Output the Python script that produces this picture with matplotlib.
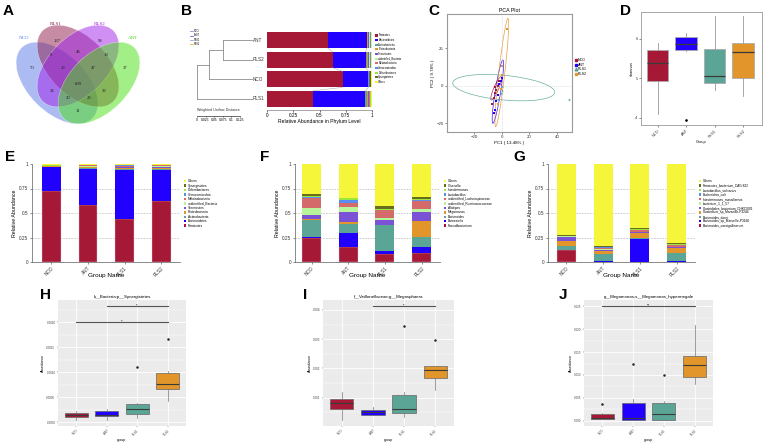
import matplotlib
matplotlib.use('Agg')
import matplotlib.pyplot as plt
from matplotlib.patches import Ellipse, Patch
from matplotlib.lines import Line2D
from matplotlib.ticker import MultipleLocator, FixedLocator
import numpy as np

plt.rcParams['font.family'] = ['Liberation Sans', 'DejaVu Sans']

W, H = 765, 442
fig = plt.figure(figsize=(W / 100, H / 100), dpi=100)


def px_axes(x0, y0, x1, y1):
    return fig.add_axes([x0 / W, 1 - y1 / H, (x1 - x0) / W, (y1 - y0) / H])


# ------------------------------------------------------------------ data
groups = ['NCO', 'ANT', 'RLS1', 'RLS2']
group_colors = ['#A51937', '#2200FF', '#5BA596', '#E2952B']

# Venn (A)
venn_sets = ['NCO', 'RLS1', 'RLS2', 'ANT']
venn_colors = ['#5a7ae8', '#8c1a4a', '#a020e8', '#48e010']
venn_label_colors = ['#5a7ae8', '#8c1a4a', '#a020e8', '#48d010']
venn_regions = ['NCO', 'RLS1', 'RLS2', 'ANT', 'NCO&RLS1', 'RLS1&RLS2', 'RLS2&ANT',
                'NCO&RLS1&RLS2', 'RLS1&RLS2&ANT', 'ALL', 'NCO&RLS2', 'RLS1&ANT',
                'NCO&RLS2&ANT', 'NCO&RLS1&ANT', 'NCO&ANT']
venn_counts = [70, 137, 58, 37, 9, 48, 19, 23, 47, 609, 34, 39, 20, 23, 11]

# stacked colours (bottom -> top)
stack_colors = ['#A51937', '#2200FF', '#5BA596', '#E2952B', '#7B52D6', '#B8F59A',
                '#D46A6A', '#5B8DEF', '#99E63E', '#6B6B1E', '#F5F53A']

# Phylum (B, E)
phyla = ['Firmicutes', 'Bacteroidetes', 'Actinobacteria', 'Proteobacteria', 'Tenericutes',
         'unidentified_Bacteria', 'Melainabacteria', 'Verrucomicrobia', 'Deferribacteres',
         'Synergistetes', 'Others']
phylum_NCO = [0.72, 0.245, 0.005, 0.005, 0.003, 0.003, 0.002, 0.001, 0.001, 0.005, 0.010]
phylum_ANT = [0.58, 0.370, 0.005, 0.010, 0.003, 0.010, 0.007, 0.002, 0.003, 0.003, 0.007]
phylum_RLS1 = [0.435, 0.500, 0.015, 0.010, 0.008, 0.005, 0.010, 0.002, 0.002, 0.005, 0.008]
phylum_RLS2 = [0.625, 0.315, 0.012, 0.010, 0.010, 0.005, 0.008, 0.002, 0.002, 0.003, 0.008]

# Genus (F)
genera = ['Faecalibacterium', 'Barnesiella', 'Bacteroides', 'Megamonas', 'Alistipes',
          'unidentified_Ruminococcaceae', 'unidentified_Lachnospiraceae', 'Lactobacillus',
          'Intestinimonas', 'Olsenella', 'Others']
genus_NCO = [0.240, 0.020, 0.165, 0.010, 0.040, 0.075, 0.105, 0.007, 0.010, 0.017, 0.311]
genus_ANT = [0.155, 0.140, 0.090, 0.025, 0.100, 0.050, 0.045, 0.025, 0.020, 0.003, 0.347]
genus_RLS1 = [0.078, 0.030, 0.265, 0.007, 0.045, 0.023, 0.080, 0.007, 0.010, 0.025, 0.430]
genus_RLS2 = [0.090, 0.065, 0.100, 0.160, 0.095, 0.030, 0.080, 0.008, 0.017, 0.020, 0.335]

# Species (G)
species = ['Bacteroides_caecigallinarum', 'Bacteroides_sp_Marseille-P3166', 'Bacteroides_dorei',
           'Clostridium_sp_Marseille-P3244', 'Clostridiales_bacterium_CHKCI001',
           'bacterium_1_1_57', 'Intestinimonas_massiliensis', 'Escherichia_coli',
           'Lactobacillus_salivarius', 'Firmicutes_bacterium_CAG:822', 'Others']
species_NCO = [0.120, 0.002, 0.040, 0.055, 0.040, 0.005, 0.003, 0.002, 0.003, 0.003, 0.727]
species_ANT = [0.003, 0.005, 0.075, 0.025, 0.012, 0.010, 0.010, 0.008, 0.010, 0.007, 0.835]
species_RLS1 = [0.003, 0.230, 0.010, 0.050, 0.010, 0.005, 0.015, 0.005, 0.007, 0.010, 0.655]
species_RLS2 = [0.003, 0.010, 0.080, 0.045, 0.010, 0.008, 0.015, 0.005, 0.005, 0.012, 0.807]

# Dendrogram (B)
dendro_order = ['ANT', 'RLS2', 'NCO', 'RLS1']
dendro_merges = [(0, 1, 0.084), (4, 2, 0.125), (5, 3, 0.160)]
dendro_legend_colors = ['#b07ad0', '#8a5ad8', '#9ab0d0', '#f0b040']
scale_ticks = [0, 0.025, 0.05, 0.075, 0.1, 0.125]
scale_labels = ['0', '0.025', '0.05', '0.075', '0.1', '0.125']

# PCA (C)
pca_NCO = [(-4, -3), (-5, -5), (-6, -8), (-7, -12), (-3, 0), (-2, 3), (-5, -1)]
pca_ANT = [(-1, 3), (-2, 1), (-3, -6), (-5, -16), (-6, -18), (-4, -10), (0, 5)]
pca_RLS1 = [(0, 0), (-1, -5), (-3, -9), (0, -3), (49, -9)]
pca_RLS2 = [(4, 38), (0, 13), (0, 7), (-1, -2), (-3, -12)]
# ellipse: centre x, centre y, major, minor, angle (data units)
pca_ell_NCO = (-4.15, -1.8, 17.2, 3.5, 65)
pca_ell_ANT = (-2.95, -4.0, 43.0, 4.0, 80.2)
pca_ell_RLS1 = (1.3, -1.3, 74.5, 16.5, -5)
pca_ell_RLS2 = (-0.1, 8.8, 73.0, 4.4, 82.9)

# Shannon (D): q1, median, q3, whislo, whishi, outliers
shannon_stats = {
    'NCO': (4.94, 5.38, 5.73, 4.09, 5.90, []),
    'ANT': (5.73, 5.88, 6.04, 5.69, 6.15, [3.94]),
    'RLS1': (4.88, 5.06, 5.74, 4.71, 6.58, []),
    'RLS2': (5.00, 5.67, 5.90, 4.56, 6.58, []),
}

# H
H_stats = {
    'NCO': (0.000113, 0.000153, 0.000193, 0.000047, 0.000227, []),
    'ANT': (0.000133, 0.000153, 0.000220, 0.000040, 0.000273, []),
    'RLS1': (0.000167, 0.000260, 0.000360, 0.000093, 0.000387, [0.00110]),
    'RLS2': (0.000673, 0.000773, 0.000993, 0.000427, 0.001030, [0.00166]),
}
H_sig = [(1, 4, 0.0020, '*'), (2, 4, 0.00232, '*')]
# I
I_stats = {
    'NCO': (0.000623, 0.000829, 0.000966, 0.000223, 0.001194, []),
    'ANT': (0.000417, 0.000509, 0.000589, 0.000394, 0.000680, []),
    'RLS1': (0.000474, 0.000623, 0.001080, 0.000337, 0.001194, [0.003446]),
    'RLS2': (0.001674, 0.001960, 0.002074, 0.001251, 0.002074, [0.002966]),
}
I_sig = [(2, 4, 0.00413, '*')]
# J
J_stats = {
    'NCO': (0.00044, 0.00066, 0.00154, 0.00044, 0.00175, [0.00373]),
    'ANT': (0.00022, 0.00058, 0.00387, 0.00022, 0.00482, [0.0125]),
    'RLS1': (0.00022, 0.00154, 0.00387, 0.00022, 0.00424, [0.01009]),
    'RLS2': (0.00965, 0.01213, 0.01425, 0.00811, 0.02090, []),
}
J_sig = [(1, 4, 0.02507, '**')]

# ------------------------------------------------------------------ helpers
def letter(x, y, s):
    fig.text(x / W, 1 - y / H, s, fontsize=11, fontweight='bold', va='top', ha='left')


def tiny_ticks(ax, size=3.2, color='#333333'):
    ax.tick_params(labelsize=size, length=1.5, width=0.4, pad=1, colors='#333333')


# ------------------------------------------------------------------ A : Venn
axA = px_axes(0, 0, 190, 145)
axA.set_xlim(0, 190)
axA.set_ylim(145, 0)
axA.axis('off')
ell_layout = {'NCO': ((57, 83), 45), 'RLS1': ((78, 66), 45),
              'RLS2': ((78, 66), -45), 'ANT': ((99, 83), -45)}
for name, col in zip(venn_sets, venn_colors):
    c, ang = ell_layout[name]
    axA.add_patch(Ellipse(c, 100, 58, angle=ang, facecolor=col, alpha=0.5,
                          edgecolor='white', lw=0.4))
label_pos = {'NCO': (24, 38), 'RLS1': (56, 24), 'RLS2': (100, 24), 'ANT': (133, 38)}
for name, col in zip(venn_sets, venn_label_colors):
    axA.text(*label_pos[name], name, fontsize=3.6, color=col, ha='center', va='center',
             family=['Liberation Serif', 'DejaVu Serif'])
region_pos = {'NCO': (32, 68), 'RLS1': (57, 41), 'RLS2': (100, 41), 'ANT': (125, 68),
              'NCO&RLS1': (51, 55), 'RLS1&RLS2': (78, 52), 'RLS2&ANT': (106, 55),
              'NCO&RLS1&RLS2': (63, 68), 'RLS1&RLS2&ANT': (93, 68), 'ALL': (78, 84),
              'NCO&RLS2': (52, 91), 'RLS1&ANT': (104, 91), 'NCO&RLS2&ANT': (68, 98),
              'NCO&RLS1&ANT': (89, 98), 'NCO&ANT': (78, 111)}
for reg, cnt in zip(venn_regions, venn_counts):
    axA.text(*region_pos[reg], str(cnt), fontsize=3.4, ha='center', va='center',
             color='#222222', family=['Liberation Serif', 'DejaVu Serif'])
letter(3, 4, 'A')

# ------------------------------------------------------------------ B : dendrogram + bars
phylum_by_group = {'NCO': phylum_NCO, 'ANT': phylum_ANT, 'RLS1': phylum_RLS1, 'RLS2': phylum_RLS2}
ylimB = (3.564, -0.615)
axBd = px_axes(195, 28, 253, 110)
axBd.set_ylim(*ylimB)
axBd.set_xlim(0.1657, -0.003)
axBd.axis('off')
node_y = {i: float(i) for i in range(len(dendro_order))}
node_h = {i: 0.0 for i in range(len(dendro_order))}
nid = len(dendro_order)
for a, b, h in dendro_merges:
    for n in (a, b):
        axBd.plot([node_h[n], h], [node_y[n], node_y[n]], color='#8c8c8c', lw=0.6)
    axBd.plot([h, h], [node_y[a], node_y[b]], color='#8c8c8c', lw=0.6)
    node_y[nid] = (node_y[a] + node_y[b]) / 2
    node_h[nid] = h
    nid += 1
for i, g in enumerate(dendro_order):
    axBd.text(-0.002, i, g, fontsize=3.3, ha='left', va='center', color='#333333')

# legend of dendrogram
leg_handles = [Line2D([], [], color=c, lw=0.6) for c in dendro_legend_colors]
fig.legend(leg_handles, ['NCO', 'ANT', 'RLS1', 'RLS2'], loc='upper left',
           bbox_to_anchor=(189 / W, 1 - 28 / H), frameon=False, fontsize=1.8,
           handlelength=1.2, labelspacing=0.1, borderpad=0, handletextpad=0.3)

# scale bar
axBs = px_axes(197, 112, 240, 116)
axBs.set_xlim(0, 0.125)
for s in ['top', 'left', 'right']:
    axBs.spines[s].set_visible(False)
axBs.spines['bottom'].set_linewidth(0.4)
axBs.set_yticks([])
axBs.set_xticks(scale_ticks)
axBs.set_xticklabels(scale_labels)
axBs.tick_params(labelsize=2.4, length=1, width=0.4, pad=0.5)
axBs.set_facecolor('none')
fig.text(197 / W, 1 - 111.5 / H, 'Weighted Unifrac Distance', fontsize=2.6, va='bottom',
         ha='left', color='#333333')

axBb = px_axes(267, 28, 372, 110)
axBb.set_ylim(*ylimB)
axBb.set_xlim(0, 1)
bar_h = 0.82
cums = []
for gi, g in enumerate(dendro_order):
    vals = np.array(phylum_by_group[g])
    left = np.concatenate([[0], np.cumsum(vals)[:-1]])
    cums.append(np.cumsum(vals))
    for k in range(len(phyla)):
        axBb.barh(gi, vals[k], left=left[k], height=bar_h, color=stack_colors[k], lw=0)
for gi in range(len(dendro_order) - 1):
    for k in range(2):
        axBb.plot([cums[gi][k], cums[gi + 1][k]], [gi + bar_h / 2, gi + 1 - bar_h / 2],
                  color='#b0b0b0', lw=0.4)
for s in ['top', 'left', 'right']:
    axBb.spines[s].set_visible(False)
axBb.spines['bottom'].set_linewidth(0.4)
axBb.spines['bottom'].set_color('#666666')
axBb.set_yticks([])
axBb.set_xticks([0, 0.25, 0.5, 0.75, 1])
axBb.set_xticklabels(['0', '0.25', '0.5', '0.75', '1'])
axBb.tick_params(labelsize=3.4, length=1.5, width=0.4, pad=1)
axBb.set_xlabel('Relative Abundance in Phylum Level', fontsize=3.6, labelpad=0.5)
handlesB = [Patch(facecolor=c, edgecolor='none') for c in stack_colors]
axBb.legend(handlesB, phyla, loc='upper left', bbox_to_anchor=(1.02, 0.95), frameon=False,
            fontsize=1.9, handlelength=0.8, handleheight=0.8, labelspacing=0.25,
            borderpad=0, handletextpad=0.3)
letter(181, 4, 'B')

# ------------------------------------------------------------------ C : PCA
axC = px_axes(447, 14, 572, 132)
axC.set_xlim(-40, 51)
axC.set_ylim(-31, 48)
axC.axhline(0, color='#c8c8c8', lw=0.5, ls=':')
axC.axvline(0, color='#c8c8c8', lw=0.5, ls=':')
pca_sets = [pca_NCO, pca_ANT, pca_RLS1, pca_RLS2]
pca_ells = [pca_ell_NCO, pca_ell_ANT, pca_ell_RLS1, pca_ell_RLS2]
pca_markers = ['s', 's', '^', 's']
for pts, el, col, mk in zip(pca_sets, pca_ells, group_colors, pca_markers):
    cx, cy, wd, ht, ang = el
    axC.add_patch(Ellipse((cx, cy), wd, ht, angle=ang, facecolor='none', edgecolor=col,
                          lw=0.5, alpha=0.9))
    arr = np.array(pts)
    axC.scatter(arr[:, 0], arr[:, 1], marker=mk, s=3, color=col, lw=0, zorder=3)
for s in axC.spines.values():
    s.set_color('#999999')
    s.set_linewidth(0.8)
axC.set_xticks([-20, 0, 20, 40])
axC.set_yticks([-25, 0, 25])
tiny_ticks(axC, 3.2)
axC.set_title('PCA Plot', fontsize=3.8, pad=1.5)
axC.set_xlabel('PC1 ( 13.48% )', fontsize=3.2, labelpad=1)
axC.set_ylabel('PC2 ( 9.78% )', fontsize=3.2, labelpad=1)
handlesC = [Line2D([], [], marker=m, color=c, lw=0, markersize=2) for m, c in
            zip(pca_markers, group_colors)]
axC.legend(handlesC, groups, loc='upper left', bbox_to_anchor=(1.01, 0.64), frameon=False,
           fontsize=2.6, handlelength=0.6, labelspacing=0.15, borderpad=0, handletextpad=0.2)
letter(428, 4, 'C')

# ------------------------------------------------------------------ D : shannon box
axD = px_axes(641, 12, 762, 125)
statsD = []
for g in groups:
    q1, med, q3, lo, hi, fl = shannon_stats[g]
    statsD.append(dict(q1=q1, med=med, q3=q3, whislo=lo, whishi=hi, fliers=fl))
bpD = axD.bxp(statsD, positions=[1, 2, 3, 4], widths=0.76, patch_artist=True, showcaps=False,
              boxprops=dict(edgecolor='#aaaaaa', lw=0.6),
              whiskerprops=dict(color='#999999', lw=0.6),
              medianprops=dict(color='#3a3a3a', lw=0.9),
              flierprops=dict(marker='o', markersize=0.9, markerfacecolor='black',
                              markeredgecolor='black'))
for p, c in zip(bpD['boxes'], group_colors):
    p.set_facecolor(c)
axD.set_xlim(0.42, 4.66)
axD.set_ylim(3.82, 6.68)
axD.set_yticks([4, 5, 6])
axD.set_xticks([1, 2, 3, 4])
axD.set_xticklabels(groups, rotation=45, ha='right', rotation_mode='anchor')
tiny_ticks(axD, 2.8)
for s in axD.spines.values():
    s.set_color('#999999')
    s.set_linewidth(0.6)
axD.set_xlabel('Group', fontsize=2.8, labelpad=1)
axD.set_ylabel('shannon', fontsize=2.8, labelpad=1)
letter(620, 4, 'D')


# ------------------------------------------------------------------ E/F/G stacked bars
def stacked(box, data_list, names, xlim):
    ax = px_axes(*box)
    x = np.arange(len(groups))
    bottoms = np.zeros(len(groups))
    mat = np.array(data_list)
    for k in range(len(names)):
        ax.bar(x, mat[:, k], bottom=bottoms, width=0.52, color=stack_colors[k], lw=0.25,
               edgecolor='#f4d0d8' if k == 0 else 'none', zorder=2)
        bottoms += mat[:, k]
    ax.set_ylim(0, 1)
    ax.set_xlim(*xlim)
    for yv in [0.25, 0.5, 0.75]:
        ax.axhline(yv, color='#aaaaaa', lw=0.4, ls=(0, (3, 2)), zorder=1)
    ax.set_yticks([0, 0.25, 0.5, 0.75, 1])
    ax.set_yticklabels(['0', '0.25', '0.5', '0.75', '1'])
    ax.set_xticks(x)
    ax.set_xticklabels(groups, rotation=45, ha='right', rotation_mode='anchor')
    tiny_ticks(ax, 3.4)
    for s in ['top', 'right']:
        ax.spines[s].set_visible(False)
    for s in ['left', 'bottom']:
        ax.spines[s].set_color('#777777')
        ax.spines[s].set_linewidth(0.6)
    ax.set_ylabel('Relative Abundance', fontsize=3.8, labelpad=1.5)
    ax.set_xlabel('Group Name', fontsize=4.6)
    ax.xaxis.set_label_coords(0.5, -0.115)
    hs = [Patch(facecolor=c, edgecolor='none') for c in stack_colors[::-1]]
    ax.legend(hs, names[::-1], loc='upper left', bbox_to_anchor=(1.015, 0.86), frameon=False,
              fontsize=2.3, handlelength=0.8, handleheight=0.8, labelspacing=0.14,
              borderpad=0, handletextpad=0.4)
    return ax


stacked((32, 164, 180, 262), [phylum_NCO, phylum_ANT, phylum_RLS1, phylum_RLS2], phyla,
        (-0.534, 3.52))
letter(5, 150, 'E')
stacked((295, 164, 440, 262), [genus_NCO, genus_ANT, genus_RLS1, genus_RLS2], genera,
        (-0.45, 3.5))
letter(260, 150, 'F')
stacked((548, 164, 695, 262), [species_NCO, species_ANT, species_RLS1, species_RLS2], species,
        (-0.5, 3.5))
letter(513, 150, 'G')


# ------------------------------------------------------------------ H/I/J ggplot boxplots
def gg_box(box, stats, ylim, yticks, yticklabels, title, sig):
    ax = px_axes(*box)
    ax.set_facecolor('#EBEBEB')
    st = []
    for g in groups:
        q1, med, q3, lo, hi, fl = stats[g]
        st.append(dict(q1=q1, med=med, q3=q3, whislo=lo, whishi=hi, fliers=fl))
    bp = ax.bxp(st, positions=[1, 2, 3, 4], widths=0.75, patch_artist=True, showcaps=False,
                boxprops=dict(edgecolor='#666666', lw=0.5),
                whiskerprops=dict(color='#777777', lw=0.5),
                medianprops=dict(color='#3a3a3a', lw=0.8),
                flierprops=dict(marker='o', markersize=0.8, markerfacecolor='#222222',
                                markeredgecolor='#222222'), zorder=3)
    for p, c in zip(bp['boxes'], group_colors):
        p.set_facecolor(c)
    ax.set_xlim(0.4, 4.6)
    ax.set_ylim(*ylim)
    ax.set_yticks(yticks)
    ax.set_yticklabels(yticklabels)
    step = yticks[1] - yticks[0]
    ax.yaxis.set_minor_locator(FixedLocator(np.arange(yticks[0] - step / 2, ylim[1], step)))
    ax.set_xticks([1, 2, 3, 4])
    ax.set_xticklabels(groups, rotation=45, ha='right', rotation_mode='anchor')
    ax.grid(True, which='major', color='white', lw=0.6, zorder=0)
    ax.grid(True, which='minor', axis='y', color='white', lw=0.3, zorder=0)
    ax.set_axisbelow(True)
    ax.tick_params(labelsize=2.2, length=1, width=0.3, pad=0.8, colors='#444444')
    ax.tick_params(which='minor', length=0)
    for s in ax.spines.values():
        s.set_visible(False)
    ax.set_title(title, fontsize=3.2, pad=1.5)
    ax.set_xlabel('group', fontsize=2.6, labelpad=1)
    ax.set_ylabel('Abundance', fontsize=2.6, labelpad=1)
    for x1, x2, yv, txt in sig:
        ax.plot([x1, x2], [yv, yv], color='#555555', lw=0.8, zorder=4)
        ax.text((x1 + x2) / 2, yv, txt, fontsize=3, ha='center', va='center', zorder=5)
    return ax


gg_box((58, 300, 186, 426), H_stats, (-0.0000733, 0.00244),
       [0, 0.0005, 0.001, 0.0015, 0.002], ['0.0000', '0.0005', '0.0010', '0.0015', '0.0020'],
       'k__Bacteria;p__Synergistetes', H_sig)
letter(40, 288, 'H')
gg_box((323, 300, 454, 426), I_stats, (0.000029, 0.00434),
       [0.001, 0.002, 0.003, 0.004], ['0.001', '0.002', '0.003', '0.004'],
       'f__Veillonellaceae;g__Megasphaera', I_sig)
letter(303, 288, 'I')
gg_box((584, 300, 713, 426), J_stats, (-0.00117, 0.02639),
       [0, 0.005, 0.01, 0.015, 0.02, 0.025],
       ['0.000', '0.005', '0.010', '0.015', '0.020', '0.025'],
       'g__Megamonas;s__Megamonas_hypermegale', J_sig)
letter(559, 288, 'J')

fig.savefig('out.png', dpi=100, facecolor='white')
